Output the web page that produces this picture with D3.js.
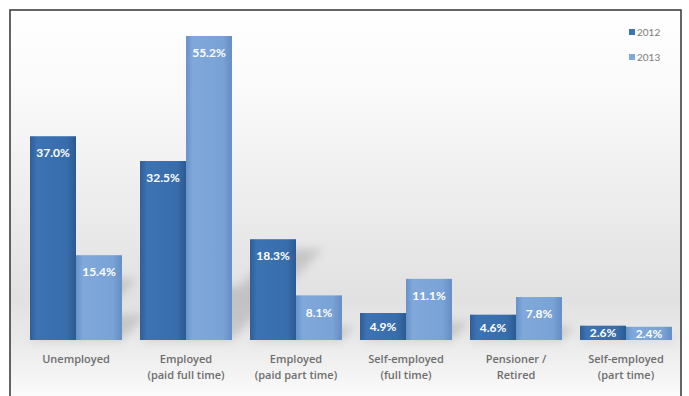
<!DOCTYPE html>
<html>
<head>
<meta charset="utf-8">
<script src="https://cdn.jsdelivr.net/npm/d3@7"></script>
<style>
  body { margin: 0; background: #fff; }
  svg { display: block; }
</style>
</head>
<body>
<div id="chart"></div>
<script>
// chart values
const categories = [
  ["Unemployed"],
  ["Employed", "(paid full time)"],
  ["Employed", "(paid part time)"],
  ["Self-employed", "(full time)"],
  ["Pensioner /", "Retired"],
  ["Self-employed", "(part time)"]
];
const seriesNames = ["2012", "2013"];
const values2012 = [37.0, 32.5, 18.3, 4.9, 4.6, 2.6];
const values2013 = [15.4, 55.2, 8.1, 11.1, 7.8, 2.4];

const W = 689, H = 396;
const base = 340;

const svg = d3.select("#chart").append("svg")
    .attr("width", W)
    .attr("height", H);

const defs = svg.append("defs");

// plot background: white -> light grey -> white
const bg = defs.append("linearGradient").attr("id", "bg")
    .attr("x1", 0).attr("y1", 0).attr("x2", 0).attr("y2", 1);
bg.append("stop").attr("offset", "0%").attr("stop-color", "#ffffff");
bg.append("stop").attr("offset", "20%").attr("stop-color", "#fafafa");
bg.append("stop").attr("offset", "72%").attr("stop-color", "#e1e1e1");
bg.append("stop").attr("offset", "84%").attr("stop-color", "#ebebeb");
bg.append("stop").attr("offset", "100%").attr("stop-color", "#ffffff");

const barColors = [
  ["#2e5d97", "#3c73b3", "#386dac", "#2b5a92"],
  ["#6792c8", "#80a8db", "#79a2d6", "#648ec4"]
];
barColors.forEach((c, i) => {
  const g = defs.append("linearGradient").attr("id", "bar" + i)
      .attr("x1", 0).attr("y1", 0).attr("x2", 1).attr("y2", 0);
  g.append("stop").attr("offset", "0%").attr("stop-color", c[0]);
  g.append("stop").attr("offset", "15%").attr("stop-color", c[1]);
  g.append("stop").attr("offset", "80%").attr("stop-color", c[2]);
  g.append("stop").attr("offset", "100%").attr("stop-color", c[3]);
});

defs.append("filter").attr("id", "blur")
    .attr("x", "-50%").attr("y", "-50%").attr("width", "200%").attr("height", "200%")
  .append("feGaussianBlur").attr("stdDeviation", 5);

// frame
svg.append("rect")
    .attr("x", 10).attr("y", 10)
    .attr("width", 671).attr("height", 400)
    .attr("fill", "url(#bg)")
    .attr("stroke", "#3f3f3f")
    .attr("stroke-width", 1.6);

const x0 = d3.scaleBand()
    .domain(d3.range(categories.length))
    .range([21, 681])
    .paddingInner(0.164)
    .paddingOuter(0.082);

const x1 = d3.scaleBand()
    .domain(seriesNames)
    .range([0, x0.bandwidth()]);

const y = d3.scaleLinear()
    .domain([0, 55.2])
    .range([base, 36]);

const rows = categories.map((c, i) => ({
  i: i,
  vals: [values2012[i], values2013[i]]
}));

// soft cast shadows behind bars
const shadow = svg.append("g")
    .attr("filter", "url(#blur)")
    .attr("opacity", 0.22);
rows.forEach(r => {
  r.vals.forEach((v, s) => {
    const h = base - y(v);
    shadow.append("rect")
        .attr("x", x0(r.i) + x1(seriesNames[s]))
        .attr("y", -h)
        .attr("width", x1.bandwidth())
        .attr("height", h)
        .attr("fill", "#555")
        .attr("transform", `matrix(1,0,-0.3,0.3,0,${base})`);
  });
});

// bars
const groups = svg.append("g").selectAll("g")
    .data(rows)
    .join("g")
    .attr("transform", d => `translate(${x0(d.i)},0)`);

groups.selectAll("rect")
    .data(d => d.vals.map((v, s) => ({ v, s })))
    .join("rect")
    .attr("x", d => x1(seriesNames[d.s]))
    .attr("y", d => y(d.v))
    .attr("width", x1.bandwidth())
    .attr("height", d => base - y(d.v))
    .attr("fill", d => `url(#bar${d.s})`);

// value labels
groups.selectAll("text.val")
    .data(d => d.vals.map((v, s) => ({ v, s })))
    .join("text")
    .attr("class", "val")
    .attr("x", d => x1(seriesNames[d.s]) + x1.bandwidth() / 2)
    .attr("y", d => {
      const h = base - y(d.v);
      return y(d.v) + Math.min(17, h / 2);
    })
    .attr("dy", "0.35em")
    .attr("text-anchor", "middle")
    .attr("fill", "#ffffff")
    .style("font-family", "Lato, 'Open Sans', sans-serif")
    .style("font-weight", "bold")
    .style("font-size", "12px")
    .text(d => d.v.toFixed(1) + "%");

// category axis labels
const labels = svg.append("g").selectAll("text")
    .data(categories)
    .join("text")
    .attr("x", (d, i) => x0(i) + x0.bandwidth() / 2)
    .attr("y", 363)
    .attr("text-anchor", "middle")
    .attr("fill", "#6e6e6e")
    .style("font-family", "'Open Sans', Lato, sans-serif")
    .style("font-weight", "600")
    .style("font-size", "11px");
labels.selectAll("tspan")
    .data(d => d)
    .join("tspan")
    .attr("x", function() { return this.parentNode.getAttribute("x"); })
    .attr("dy", (d, j) => j === 0 ? 0 : 16)
    .text(d => d);

// legend
const legend = svg.append("g").selectAll("g")
    .data(seriesNames)
    .join("g")
    .attr("transform", (d, i) => `translate(629,${32 + i * 25})`);
legend.append("rect")
    .attr("x", 0).attr("y", -3)
    .attr("width", 6).attr("height", 6)
    .attr("fill", (d, i) => barColors[i][1]);
legend.append("text")
    .attr("x", 8)
    .attr("dy", "0.35em")
    .attr("fill", "#7a7a7a")
    .style("font-family", "Lato, sans-serif")
    .style("font-size", "10px")
    .text(d => d);
</script>
</body>
</html>
